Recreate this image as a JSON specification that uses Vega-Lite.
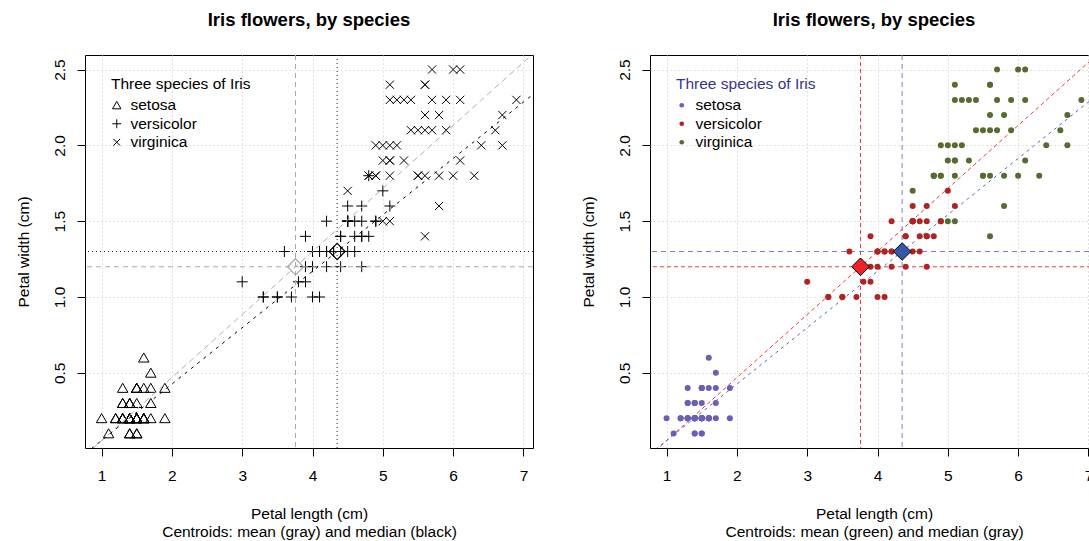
{
  "$schema": "https://vega.github.io/schema/vega-lite/v6.json",
  "background": "white",
  "padding": {"left": 15, "top": 10, "right": 0, "bottom": 0},
  "bounds": "flush",
  "spacing": 117,
  "resolve": {
    "scale": {"color": "independent", "shape": "independent", "x": "independent", "y": "independent"},
    "legend": {"color": "independent", "shape": "independent"}
  },
  "config": {
    "font": "Liberation Sans",
    "view": {"stroke": "black", "strokeWidth": 1},
    "axis": {
      "domain": false, "grid": true, "gridColor": "#c4c4c4", "gridDash": [1, 3],
      "tickColor": "black", "tickSize": 8, "labelFontSize": 15.5, "labelColor": "black",
      "labelFont": "Liberation Sans", "titleFont": "Liberation Sans",
      "titleFontSize": 15.5, "titleFontWeight": "normal", "titleColor": "black"
    },
    "axisX": {"labelPadding": 12, "titlePadding": 23, "titleLineHeight": 18, "labelAngle": 0},
    "axisY": {"labelAngle": -90, "labelAlign": "center", "labelBaseline": "bottom", "labelPadding": 10, "titlePadding": 21},
    "title": {"fontSize": 18.5, "fontWeight": "bold", "font": "Liberation Sans", "color": "black", "offset": 25, "frame": "group", "anchor": "middle"},
    "legend": {
      "orient": "none", "legendX": 26, "legendY": 22, "padding": 0,
      "titleFontSize": 15.5, "titleFontWeight": "normal", "titleFont": "Liberation Sans",
      "labelFontSize": 15.5, "labelFont": "Liberation Sans", "labelColor": "black",
      "rowPadding": 1.5, "titlePadding": 5
    }
  },
  "datasets": {
    "iris": [
      {"s":"setosa","l":1.4,"w":0.2},{"s":"setosa","l":1.4,"w":0.2},{"s":"setosa","l":1.3,"w":0.2},{"s":"setosa","l":1.5,"w":0.2},{"s":"setosa","l":1.4,"w":0.2},
      {"s":"setosa","l":1.7,"w":0.4},{"s":"setosa","l":1.4,"w":0.3},{"s":"setosa","l":1.5,"w":0.2},{"s":"setosa","l":1.4,"w":0.2},{"s":"setosa","l":1.5,"w":0.1},
      {"s":"setosa","l":1.5,"w":0.2},{"s":"setosa","l":1.6,"w":0.2},{"s":"setosa","l":1.4,"w":0.1},{"s":"setosa","l":1.1,"w":0.1},{"s":"setosa","l":1.2,"w":0.2},
      {"s":"setosa","l":1.5,"w":0.4},{"s":"setosa","l":1.3,"w":0.4},{"s":"setosa","l":1.4,"w":0.3},{"s":"setosa","l":1.7,"w":0.3},{"s":"setosa","l":1.5,"w":0.3},
      {"s":"setosa","l":1.7,"w":0.2},{"s":"setosa","l":1.5,"w":0.4},{"s":"setosa","l":1.0,"w":0.2},{"s":"setosa","l":1.7,"w":0.5},{"s":"setosa","l":1.9,"w":0.2},
      {"s":"setosa","l":1.6,"w":0.2},{"s":"setosa","l":1.6,"w":0.4},{"s":"setosa","l":1.5,"w":0.2},{"s":"setosa","l":1.4,"w":0.2},{"s":"setosa","l":1.6,"w":0.2},
      {"s":"setosa","l":1.6,"w":0.2},{"s":"setosa","l":1.5,"w":0.4},{"s":"setosa","l":1.5,"w":0.1},{"s":"setosa","l":1.4,"w":0.2},{"s":"setosa","l":1.5,"w":0.2},
      {"s":"setosa","l":1.2,"w":0.2},{"s":"setosa","l":1.3,"w":0.2},{"s":"setosa","l":1.4,"w":0.1},{"s":"setosa","l":1.3,"w":0.2},{"s":"setosa","l":1.5,"w":0.2},
      {"s":"setosa","l":1.3,"w":0.3},{"s":"setosa","l":1.3,"w":0.3},{"s":"setosa","l":1.3,"w":0.2},{"s":"setosa","l":1.6,"w":0.6},{"s":"setosa","l":1.9,"w":0.4},
      {"s":"setosa","l":1.4,"w":0.3},{"s":"setosa","l":1.6,"w":0.2},{"s":"setosa","l":1.4,"w":0.2},{"s":"setosa","l":1.5,"w":0.2},{"s":"setosa","l":1.4,"w":0.2},
      {"s":"versicolor","l":4.7,"w":1.4},{"s":"versicolor","l":4.5,"w":1.5},{"s":"versicolor","l":4.9,"w":1.5},{"s":"versicolor","l":4.0,"w":1.3},{"s":"versicolor","l":4.6,"w":1.5},
      {"s":"versicolor","l":4.5,"w":1.3},{"s":"versicolor","l":4.7,"w":1.6},{"s":"versicolor","l":3.3,"w":1.0},{"s":"versicolor","l":4.6,"w":1.3},{"s":"versicolor","l":3.9,"w":1.4},
      {"s":"versicolor","l":3.5,"w":1.0},{"s":"versicolor","l":4.2,"w":1.5},{"s":"versicolor","l":4.0,"w":1.0},{"s":"versicolor","l":4.7,"w":1.4},{"s":"versicolor","l":3.6,"w":1.3},
      {"s":"versicolor","l":4.4,"w":1.4},{"s":"versicolor","l":4.5,"w":1.5},{"s":"versicolor","l":4.1,"w":1.0},{"s":"versicolor","l":4.5,"w":1.5},{"s":"versicolor","l":3.9,"w":1.1},
      {"s":"versicolor","l":4.8,"w":1.8},{"s":"versicolor","l":4.0,"w":1.3},{"s":"versicolor","l":4.9,"w":1.5},{"s":"versicolor","l":4.7,"w":1.2},{"s":"versicolor","l":4.3,"w":1.3},
      {"s":"versicolor","l":4.4,"w":1.4},{"s":"versicolor","l":4.8,"w":1.4},{"s":"versicolor","l":5.0,"w":1.7},{"s":"versicolor","l":4.5,"w":1.5},{"s":"versicolor","l":3.5,"w":1.0},
      {"s":"versicolor","l":3.8,"w":1.1},{"s":"versicolor","l":3.7,"w":1.0},{"s":"versicolor","l":3.9,"w":1.2},{"s":"versicolor","l":5.1,"w":1.6},{"s":"versicolor","l":4.5,"w":1.5},
      {"s":"versicolor","l":4.5,"w":1.6},{"s":"versicolor","l":4.7,"w":1.5},{"s":"versicolor","l":4.4,"w":1.3},{"s":"versicolor","l":4.1,"w":1.3},{"s":"versicolor","l":4.0,"w":1.3},
      {"s":"versicolor","l":4.4,"w":1.2},{"s":"versicolor","l":4.6,"w":1.4},{"s":"versicolor","l":4.0,"w":1.2},{"s":"versicolor","l":3.3,"w":1.0},{"s":"versicolor","l":4.2,"w":1.3},
      {"s":"versicolor","l":4.2,"w":1.2},{"s":"versicolor","l":4.2,"w":1.3},{"s":"versicolor","l":4.3,"w":1.3},{"s":"versicolor","l":3.0,"w":1.1},{"s":"versicolor","l":4.1,"w":1.3},
      {"s":"virginica","l":6.0,"w":2.5},{"s":"virginica","l":5.1,"w":1.9},{"s":"virginica","l":5.9,"w":2.1},{"s":"virginica","l":5.6,"w":1.8},{"s":"virginica","l":5.8,"w":2.2},
      {"s":"virginica","l":6.6,"w":2.1},{"s":"virginica","l":4.5,"w":1.7},{"s":"virginica","l":6.3,"w":1.8},{"s":"virginica","l":5.8,"w":1.8},{"s":"virginica","l":6.1,"w":2.5},
      {"s":"virginica","l":5.1,"w":2.0},{"s":"virginica","l":5.3,"w":1.9},{"s":"virginica","l":5.5,"w":2.1},{"s":"virginica","l":5.0,"w":2.0},{"s":"virginica","l":5.1,"w":2.4},
      {"s":"virginica","l":5.3,"w":2.3},{"s":"virginica","l":5.5,"w":1.8},{"s":"virginica","l":6.7,"w":2.2},{"s":"virginica","l":6.9,"w":2.3},{"s":"virginica","l":5.0,"w":1.5},
      {"s":"virginica","l":5.7,"w":2.3},{"s":"virginica","l":4.9,"w":2.0},{"s":"virginica","l":6.7,"w":2.0},{"s":"virginica","l":4.9,"w":1.8},{"s":"virginica","l":5.7,"w":2.1},
      {"s":"virginica","l":6.0,"w":1.8},{"s":"virginica","l":4.8,"w":1.8},{"s":"virginica","l":4.9,"w":1.8},{"s":"virginica","l":5.6,"w":2.1},{"s":"virginica","l":5.8,"w":1.6},
      {"s":"virginica","l":6.1,"w":1.9},{"s":"virginica","l":6.4,"w":2.0},{"s":"virginica","l":5.6,"w":2.2},{"s":"virginica","l":5.1,"w":1.5},{"s":"virginica","l":5.6,"w":1.4},
      {"s":"virginica","l":6.1,"w":2.3},{"s":"virginica","l":5.6,"w":2.4},{"s":"virginica","l":5.5,"w":1.8},{"s":"virginica","l":4.8,"w":1.8},{"s":"virginica","l":5.4,"w":2.1},
      {"s":"virginica","l":5.6,"w":2.4},{"s":"virginica","l":5.1,"w":2.3},{"s":"virginica","l":5.1,"w":1.9},{"s":"virginica","l":5.9,"w":2.3},{"s":"virginica","l":5.7,"w":2.5},
      {"s":"virginica","l":5.2,"w":2.3},{"s":"virginica","l":5.0,"w":1.9},{"s":"virginica","l":5.2,"w":2.0},{"s":"virginica","l":5.4,"w":2.3},{"s":"virginica","l":5.1,"w":1.8}
    ],
    "cent": [
      {"k":"mean","l":3.758,"w":1.1993},
      {"k":"median","l":4.35,"w":1.3}
    ],
    "fit": [
      {"k":"mean","l":0.764,"w":-0.0454},
      {"k":"mean","l":7.136,"w":2.6038},
      {"k":"median","l":0.764,"w":-0.034},
      {"k":"median","l":7.136,"w":2.3364}
    ]
  },
  "hconcat": [
    {
      "width": 448,
      "height": 393,
      "title": {"text": "Iris flowers, by species"},
      "layer": [
        {
          "data": {"name": "iris"},
          "mark": {"type": "point", "filled": false, "color": "black", "strokeWidth": 1, "size": 121, "opacity": 1},
          "encoding": {
            "x": {"field": "l", "type": "quantitative", "scale": {"domain": [0.764, 7.136], "nice": false, "zero": false},
                  "axis": {"values": [1, 2, 3, 4, 5, 6, 7], "format": "d", "title": ["Petal length (cm)", "Centroids: mean (gray) and median (black)"]}},
            "y": {"field": "w", "type": "quantitative", "scale": {"domain": [0.004, 2.596], "nice": false, "zero": false},
                  "axis": {"values": [0.5, 1, 1.5, 2, 2.5], "format": ".1f", "title": "Petal width (cm)"}},
            "shape": {"field": "s", "type": "nominal",
                      "scale": {"domain": ["setosa", "versicolor", "virginica"],
                                "range": ["M0,-0.85L0.95,0.8L-0.95,0.8Z", "M-1,0L1,0M0,-1L0,1", "M-0.75,-0.75L0.75,0.75M-0.75,0.75L0.75,-0.75"]},
                      "legend": {"title": "Three species of Iris", "titleColor": "black", "symbolStrokeColor": "black", "symbolFillColor": "transparent", "symbolSize": 80, "symbolStrokeWidth": 1, "symbolOffset": -2, "labelOffset": 6,
                                 "encode": {"symbols": {"update": {"fill": {"value": "transparent"}, "stroke": {"value": "black"}, "opacity": {"value": 1}}}}}}
          }
        },
        {
          "data": {"name": "cent"},
          "transform": [{"filter": "datum.k == 'mean'"}],
          "mark": {"type": "rule", "color": "#aaaaaa", "strokeDash": [5, 4], "strokeWidth": 1},
          "encoding": {"x": {"field": "l", "type": "quantitative"}}
        },
        {
          "data": {"name": "cent"},
          "transform": [{"filter": "datum.k == 'mean'"}],
          "mark": {"type": "rule", "color": "#aaaaaa", "strokeDash": [5, 4], "strokeWidth": 1},
          "encoding": {"y": {"field": "w", "type": "quantitative"}}
        },
        {
          "data": {"name": "cent"},
          "transform": [{"filter": "datum.k == 'median'"}],
          "mark": {"type": "rule", "color": "#222222", "strokeDash": [1, 3], "strokeWidth": 1},
          "encoding": {"x": {"field": "l", "type": "quantitative"}}
        },
        {
          "data": {"name": "cent"},
          "transform": [{"filter": "datum.k == 'median'"}],
          "mark": {"type": "rule", "color": "#222222", "strokeDash": [1, 3], "strokeWidth": 1},
          "encoding": {"y": {"field": "w", "type": "quantitative"}}
        },
        {
          "data": {"name": "fit"},
          "transform": [{"filter": "datum.k == 'mean'"}],
          "mark": {"type": "line", "clip": true, "color": "#b0b0b0", "strokeDash": [6, 4], "strokeWidth": 1},
          "encoding": {"x": {"field": "l", "type": "quantitative"}, "y": {"field": "w", "type": "quantitative"}}
        },
        {
          "data": {"name": "fit"},
          "transform": [{"filter": "datum.k == 'median'"}],
          "mark": {"type": "line", "clip": true, "color": "black", "strokeDash": [3, 5], "strokeWidth": 1},
          "encoding": {"x": {"field": "l", "type": "quantitative"}, "y": {"field": "w", "type": "quantitative"}}
        },
        {
          "data": {"name": "cent"},
          "transform": [{"filter": "datum.k == 'mean'"}],
          "mark": {"type": "point", "shape": "diamond", "filled": false, "color": "#aaaaaa", "strokeWidth": 1.2, "size": 260, "opacity": 1},
          "encoding": {"x": {"field": "l", "type": "quantitative"}, "y": {"field": "w", "type": "quantitative"}}
        },
        {
          "data": {"name": "cent"},
          "transform": [{"filter": "datum.k == 'median'"}],
          "mark": {"type": "point", "shape": "diamond", "filled": false, "color": "black", "strokeWidth": 1.2, "size": 260, "opacity": 1},
          "encoding": {"x": {"field": "l", "type": "quantitative"}, "y": {"field": "w", "type": "quantitative"}}
        }
      ]
    },
    {
      "width": 448,
      "height": 393,
      "title": {"text": "Iris flowers, by species"},
      "layer": [
        {
          "data": {"name": "cent"},
          "transform": [{"filter": "datum.k == 'mean'"}],
          "mark": {"type": "rule", "color": "#f03a3a", "strokeDash": [4, 3], "strokeWidth": 1},
          "encoding": {"x": {"field": "l", "type": "quantitative", "scale": {"domain": [0.764, 7.136], "nice": false, "zero": false},
                  "axis": {"values": [1, 2, 3, 4, 5, 6, 7], "format": "d", "title": ["Petal length (cm)", "Centroids: mean (green) and median (gray)"]}}}
        },
        {
          "data": {"name": "cent"},
          "transform": [{"filter": "datum.k == 'mean'"}],
          "mark": {"type": "rule", "color": "#f03a3a", "strokeDash": [4, 3], "strokeWidth": 1},
          "encoding": {"y": {"field": "w", "type": "quantitative", "scale": {"domain": [0.004, 2.596], "nice": false, "zero": false},
                  "axis": {"values": [0.5, 1, 1.5, 2, 2.5], "format": ".1f", "title": "Petal width (cm)"}}}
        },
        {
          "data": {"name": "cent"},
          "transform": [{"filter": "datum.k == 'median'"}],
          "mark": {"type": "rule", "color": "#6f82d2", "strokeDash": [5, 4], "strokeWidth": 1},
          "encoding": {"x": {"field": "l", "type": "quantitative"}}
        },
        {
          "data": {"name": "cent"},
          "transform": [{"filter": "datum.k == 'median'"}],
          "mark": {"type": "rule", "color": "#6f82d2", "strokeDash": [5, 4], "strokeWidth": 1},
          "encoding": {"y": {"field": "w", "type": "quantitative"}}
        },
        {
          "data": {"name": "fit"},
          "transform": [{"filter": "datum.k == 'mean'"}],
          "mark": {"type": "line", "clip": true, "color": "#f03a3a", "strokeDash": [4, 3], "strokeWidth": 1},
          "encoding": {"x": {"field": "l", "type": "quantitative"}, "y": {"field": "w", "type": "quantitative"}}
        },
        {
          "data": {"name": "fit"},
          "transform": [{"filter": "datum.k == 'median'"}],
          "mark": {"type": "line", "clip": true, "color": "#5068c8", "strokeDash": [3, 4], "strokeWidth": 1},
          "encoding": {"x": {"field": "l", "type": "quantitative"}, "y": {"field": "w", "type": "quantitative"}}
        },
        {
          "data": {"name": "iris"},
          "mark": {"type": "circle", "size": 36, "opacity": 1},
          "encoding": {
            "x": {"field": "l", "type": "quantitative"},
            "y": {"field": "w", "type": "quantitative"},
            "color": {"field": "s", "type": "nominal",
                      "scale": {"domain": ["setosa", "versicolor", "virginica"], "range": ["#6a5eb5", "#b22222", "#556b2f"]},
                      "legend": {"title": "Three species of Iris", "titleColor": "#35358f", "symbolType": "circle", "symbolSize": 22, "symbolOffset": -2, "labelOffset": 6}}
          }
        },
        {
          "data": {"name": "cent"},
          "transform": [{"filter": "datum.k == 'mean'"}],
          "mark": {"type": "point", "shape": "diamond", "filled": true, "fill": "#ee2228", "stroke": "black", "strokeWidth": 1, "size": 310, "opacity": 1},
          "encoding": {"x": {"field": "l", "type": "quantitative"}, "y": {"field": "w", "type": "quantitative"}}
        },
        {
          "data": {"name": "cent"},
          "transform": [{"filter": "datum.k == 'median'"}],
          "mark": {"type": "point", "shape": "diamond", "filled": true, "fill": "#3a56a8", "stroke": "black", "strokeWidth": 1, "size": 310, "opacity": 1},
          "encoding": {"x": {"field": "l", "type": "quantitative"}, "y": {"field": "w", "type": "quantitative"}}
        }
      ]
    }
  ]
}
